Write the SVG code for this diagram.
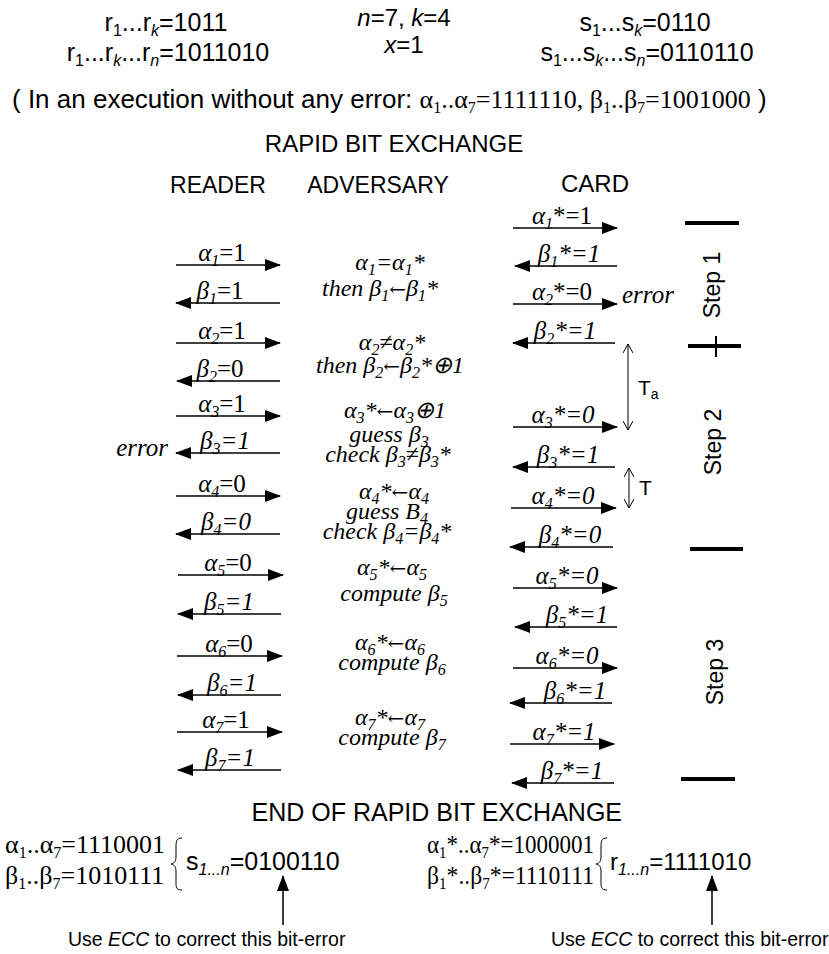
<svg xmlns="http://www.w3.org/2000/svg" width="829" height="954" viewBox="0 0 829 954">
<defs>
<style>
.ar{font-family:"Liberation Sans",Arial,sans-serif;font-size:23px;fill:#000}
.tm{font-family:"Liberation Serif","Times New Roman",serif;font-style:italic;font-size:25px;fill:#000}
.adv{font-family:"Liberation Serif","Times New Roman",serif;font-style:italic;font-size:24px;fill:#000}
.rm{font-family:"Liberation Serif","Times New Roman",serif;font-style:normal;font-size:25px;fill:#000}
.n{font-style:normal}
.i{font-style:italic}
.s{font-size:16px}
.arw{font-family:"DejaVu Serif","DejaVu Sans",serif;font-style:normal;font-size:20px}
.msg{stroke:#000;stroke-width:1.5;fill:none}
.thin{stroke:#000;stroke-width:1;fill:none}
.bar{stroke:#000;stroke-width:4;fill:none}
</style>
<marker id="ah" markerUnits="userSpaceOnUse" markerWidth="16" markerHeight="12" refX="15" refY="6" orient="auto-start-reverse">
<path d="M0,0 L16,6 L0,12 Z" fill="#000"/>
</marker>
<marker id="oh" markerUnits="userSpaceOnUse" markerWidth="10" markerHeight="10" refX="9" refY="5" orient="auto-start-reverse">
<path d="M0,0 L9,5 L0,10" fill="none" stroke="#000" stroke-width="1"/>
</marker>
</defs>
<rect width="829" height="954" fill="#fff"/>

<g id="params">
<text class="ar" x="166" y="31" text-anchor="middle" style="font-size:25px">r<tspan class="s" dy="5">1</tspan><tspan dy="-5">...r</tspan><tspan class="s i" dy="5">k</tspan><tspan dy="-5">=1011</tspan></text>
<text class="ar" x="168" y="61" text-anchor="middle" style="font-size:25px">r<tspan class="s" dy="5">1</tspan><tspan dy="-5">...r</tspan><tspan class="s i" dy="5">k</tspan><tspan dy="-5">...r</tspan><tspan class="s i" dy="5">n</tspan><tspan dy="-5">=1011010</tspan></text>
<text class="ar" x="404" y="26" text-anchor="middle" style="font-size:24px"><tspan class="i">n</tspan>=7, <tspan class="i">k</tspan>=4</text>
<text class="ar" x="404" y="53" text-anchor="middle" style="font-size:24px"><tspan class="i">x</tspan>=1</text>
<text class="ar" x="645" y="31" text-anchor="middle" style="font-size:25px">s<tspan class="s" dy="5">1</tspan><tspan dy="-5">...s</tspan><tspan class="s i" dy="5">k</tspan><tspan dy="-5">=0110</tspan></text>
<text class="ar" x="647" y="61" text-anchor="middle" style="font-size:25px">s<tspan class="s" dy="5">1</tspan><tspan dy="-5">...s</tspan><tspan class="s i" dy="5">k</tspan><tspan dy="-5">...s</tspan><tspan class="s i" dy="5">n</tspan><tspan dy="-5">=0110110</tspan></text>
<text class="ar" x="12" y="108" style="font-size:26px">( In an execution without any error:  <tspan class="rm" style="font-size:26px">α<tspan class="s" dy="5">1</tspan><tspan dy="-5">..α</tspan><tspan class="s" dy="5">7</tspan><tspan dy="-5">=1111110,  β</tspan><tspan class="s" dy="5">1</tspan><tspan dy="-5">..β</tspan><tspan class="s" dy="5">7</tspan><tspan dy="-5">=1001000</tspan></tspan> )</text>
</g>

<g id="headings">
<text class="ar" x="394" y="152" text-anchor="middle" style="font-size:24px">RAPID BIT EXCHANGE</text>
<text class="ar" x="218" y="193" text-anchor="middle">READER</text>
<text class="ar" x="378" y="193" text-anchor="middle">ADVERSARY</text>
<text class="ar" x="595" y="192" text-anchor="middle" style="font-size:24px">CARD</text>
</g>

<g id="connectors">
<line class="msg" x1="176" y1="265" x2="280" y2="265" marker-end="url(#ah)"/>
<line class="msg" x1="280" y1="303" x2="176" y2="303" marker-end="url(#ah)"/>
<line class="msg" x1="176" y1="343" x2="280" y2="343" marker-end="url(#ah)"/>
<line class="msg" x1="280" y1="381" x2="177" y2="381" marker-end="url(#ah)"/>
<line class="msg" x1="176" y1="416" x2="280" y2="416" marker-end="url(#ah)"/>
<line class="msg" x1="280" y1="453" x2="176" y2="453" marker-end="url(#ah)"/>
<line class="msg" x1="176" y1="496" x2="280" y2="496" marker-end="url(#ah)"/>
<line class="msg" x1="280" y1="534" x2="176" y2="534" marker-end="url(#ah)"/>
<line class="msg" x1="178" y1="575" x2="283" y2="575" marker-end="url(#ah)"/>
<line class="msg" x1="281" y1="614" x2="178" y2="614" marker-end="url(#ah)"/>
<line class="msg" x1="177" y1="656" x2="282" y2="656" marker-end="url(#ah)"/>
<line class="msg" x1="281" y1="695" x2="178" y2="695" marker-end="url(#ah)"/>
<line class="msg" x1="177" y1="732" x2="282" y2="732" marker-end="url(#ah)"/>
<line class="msg" x1="281" y1="770" x2="178" y2="770" marker-end="url(#ah)"/>
<line class="msg" x1="513" y1="228" x2="617" y2="228" marker-end="url(#ah)"/>
<line class="msg" x1="617" y1="266" x2="515" y2="266" marker-end="url(#ah)"/>
<line class="msg" x1="513" y1="304" x2="617" y2="304" marker-end="url(#ah)"/>
<line class="msg" x1="615" y1="343" x2="513" y2="343" marker-end="url(#ah)"/>
<line class="msg" x1="513" y1="427" x2="617" y2="427" marker-end="url(#ah)"/>
<line class="msg" x1="615" y1="467" x2="513" y2="467" marker-end="url(#ah)"/>
<line class="msg" x1="511" y1="508" x2="616" y2="508" marker-end="url(#ah)"/>
<line class="msg" x1="613" y1="547" x2="510" y2="547" marker-end="url(#ah)"/>
<line class="msg" x1="513" y1="588" x2="617" y2="588" marker-end="url(#ah)"/>
<line class="msg" x1="617" y1="627" x2="515" y2="627" marker-end="url(#ah)"/>
<line class="msg" x1="513" y1="668" x2="617" y2="668" marker-end="url(#ah)"/>
<line class="msg" x1="612" y1="703" x2="510" y2="703" marker-end="url(#ah)"/>
<line class="msg" x1="510" y1="744" x2="614" y2="744" marker-end="url(#ah)"/>
<line class="msg" x1="614" y1="783" x2="512" y2="783" marker-end="url(#ah)"/>
<line class="thin" x1="628" y1="344" x2="628" y2="430" marker-start="url(#oh)" marker-end="url(#oh)"/>
<line class="thin" x1="629" y1="468" x2="629" y2="508" marker-start="url(#oh)" marker-end="url(#oh)"/>
<line class="msg" x1="283" y1="925" x2="283" y2="876" marker-end="url(#ah)"/>
<line class="msg" x1="712" y1="925" x2="712" y2="876" marker-end="url(#ah)"/>
</g>

<g id="reader-labels" class="tm" text-anchor="middle">
<text x="222" y="261">α<tspan class="s" dy="5">1</tspan><tspan class="n" dy="-5">=1</tspan></text>
<text x="220" y="299">β<tspan class="s" dy="5">1</tspan><tspan class="n" dy="-5">=1</tspan></text>
<text x="222" y="339">α<tspan class="s" dy="5">2</tspan><tspan class="n" dy="-5">=1</tspan></text>
<text x="220" y="377">β<tspan class="s" dy="5">2</tspan><tspan class="n" dy="-5">=0</tspan></text>
<text x="222" y="412">α<tspan class="s" dy="5">3</tspan><tspan class="n" dy="-5">=1</tspan></text>
<text x="225" y="449">β<tspan class="s" dy="5">3</tspan><tspan dy="-5">=1</tspan></text>
<text x="222" y="492">α<tspan class="s" dy="5">4</tspan><tspan class="n" dy="-5">=0</tspan></text>
<text x="226" y="530">β<tspan class="s" dy="5">4</tspan><tspan dy="-5">=0</tspan></text>
<text x="228" y="571">α<tspan class="s" dy="5">5</tspan><tspan class="n" dy="-5">=0</tspan></text>
<text x="229" y="610">β<tspan class="s" dy="5">5</tspan><tspan dy="-5">=1</tspan></text>
<text x="229" y="652">α<tspan class="s" dy="5">6</tspan><tspan class="n" dy="-5">=0</tspan></text>
<text x="232" y="691">β<tspan class="s" dy="5">6</tspan><tspan dy="-5">=1</tspan></text>
<text x="226" y="728">α<tspan class="s" dy="5">7</tspan><tspan class="n" dy="-5">=1</tspan></text>
<text x="230" y="766">β<tspan class="s" dy="5">7</tspan><tspan dy="-5">=1</tspan></text>
<text x="168" y="456" text-anchor="end">error</text>
</g>

<g id="adversary" class="adv" text-anchor="middle">
<text x="390" y="270">α<tspan class="s" dy="5">1</tspan><tspan dy="-5">=α</tspan><tspan class="s" dy="5">1</tspan><tspan dy="-5">*</tspan></text>
<text x="380" y="296">then β<tspan class="s" dy="5">1</tspan><tspan class="arw" dy="-5">←</tspan>β<tspan class="s" dy="5">1</tspan><tspan dy="-5">*</tspan></text>
<text x="392" y="350">α<tspan class="s" dy="5">2</tspan><tspan dy="-5">≠α</tspan><tspan class="s" dy="5">2</tspan><tspan dy="-5">*</tspan></text>
<text x="390" y="373">then β<tspan class="s" dy="5">2</tspan><tspan class="arw" dy="-5">←</tspan>β<tspan class="s" dy="5">2</tspan><tspan dy="-5">*⊕1</tspan></text>
<text x="395" y="418">α<tspan class="s" dy="5">3</tspan><tspan dy="-5">*</tspan><tspan class="arw">←</tspan>α<tspan class="s" dy="5">3</tspan><tspan dy="-5">⊕1</tspan></text>
<text x="389" y="442">guess β<tspan class="s" dy="5">3</tspan></text>
<text x="388" y="462">check β<tspan class="s" dy="5">3</tspan><tspan dy="-5">≠β</tspan><tspan class="s" dy="5">3</tspan><tspan dy="-5">*</tspan></text>
<text x="394" y="499">α<tspan class="s" dy="5">4</tspan><tspan dy="-5">*</tspan><tspan class="arw">←</tspan>α<tspan class="s" dy="5">4</tspan></text>
<text x="387" y="519">guess B<tspan class="s" dy="5">4</tspan></text>
<text x="387" y="539">check β<tspan class="s" dy="5">4</tspan><tspan dy="-5">=β</tspan><tspan class="s" dy="5">4</tspan><tspan dy="-5">*</tspan></text>
<text x="392" y="575">α<tspan class="s" dy="5">5</tspan><tspan dy="-5">*</tspan><tspan class="arw">←</tspan>α<tspan class="s" dy="5">5</tspan></text>
<text x="394" y="601">compute β<tspan class="s" dy="5">5</tspan></text>
<text x="390" y="650">α<tspan class="s" dy="5">6</tspan><tspan dy="-5">*</tspan><tspan class="arw">←</tspan>α<tspan class="s" dy="5">6</tspan></text>
<text x="392" y="670">compute β<tspan class="s" dy="5">6</tspan></text>
<text x="390" y="725">α<tspan class="s" dy="5">7</tspan><tspan dy="-5">*</tspan><tspan class="arw">←</tspan>α<tspan class="s" dy="5">7</tspan></text>
<text x="392" y="745">compute β<tspan class="s" dy="5">7</tspan></text>
</g>

<g id="card-labels" class="tm" text-anchor="middle">
<text x="562" y="224">α<tspan class="s" dy="5">1</tspan><tspan class="n" dy="-5">*=1</tspan></text>
<text x="569" y="262">β<tspan class="s" dy="5">1</tspan><tspan dy="-5">*=1</tspan></text>
<text x="562" y="300">α<tspan class="s" dy="5">2</tspan><tspan class="n" dy="-5">*=0</tspan></text>
<text x="565" y="339">β<tspan class="s" dy="5">2</tspan><tspan dy="-5">*=1</tspan></text>
<text x="563" y="423">α<tspan class="s" dy="5">3</tspan><tspan dy="-5">*=0</tspan></text>
<text x="568" y="463">β<tspan class="s" dy="5">3</tspan><tspan dy="-5">*=1</tspan></text>
<text x="563" y="504">α<tspan class="s" dy="5">4</tspan><tspan dy="-5">*=0</tspan></text>
<text x="570" y="543">β<tspan class="s" dy="5">4</tspan><tspan dy="-5">*=0</tspan></text>
<text x="567" y="584">α<tspan class="s" dy="5">5</tspan><tspan dy="-5">*=0</tspan></text>
<text x="577" y="623">β<tspan class="s" dy="5">5</tspan><tspan dy="-5">*=1</tspan></text>
<text x="567" y="664">α<tspan class="s" dy="5">6</tspan><tspan dy="-5">*=0</tspan></text>
<text x="575" y="699">β<tspan class="s" dy="5">6</tspan><tspan dy="-5">*=1</tspan></text>
<text x="564" y="740">α<tspan class="s" dy="5">7</tspan><tspan dy="-5">*=1</tspan></text>
<text x="572" y="779">β<tspan class="s" dy="5">7</tspan><tspan dy="-5">*=1</tspan></text>
<text x="622" y="303" text-anchor="start">error</text>
</g>

<g id="timing">
<text class="ar" x="638" y="395" style="font-size:21px">T<tspan style="font-size:14px" dy="4">a</tspan></text>
<text class="ar" x="639" y="495" style="font-size:21px">T</text>
</g>

<g id="steps">
<line class="bar" x1="685" y1="223" x2="739" y2="223"/>
<line class="bar" x1="688" y1="346" x2="741" y2="346"/>
<line class="bar" x1="716" y1="336" x2="716" y2="357" style="stroke-width:2"/>
<line class="bar" x1="690" y1="549" x2="743" y2="549"/>
<line class="bar" x1="681" y1="779" x2="735" y2="779"/>
<text class="ar" transform="translate(720,285) rotate(-90)" text-anchor="middle">Step 1</text>
<text class="ar" transform="translate(721,442) rotate(-90)" text-anchor="middle">Step 2</text>
<text class="ar" transform="translate(723,672) rotate(-90)" text-anchor="middle">Step 3</text>
</g>

<g id="end">
<text class="ar" x="622" y="821" text-anchor="end" style="font-size:25px">END OF RAPID BIT EXCHANGE</text>
</g>

<g id="reader-result">
<text class="rm" x="5" y="853" style="font-size:26px">α<tspan class="s" dy="5">1</tspan><tspan dy="-5">..α</tspan><tspan class="s" dy="5">7</tspan><tspan dy="-5">=1110001</tspan></text>
<text class="rm" x="5" y="884" style="font-size:26px">β<tspan class="s" dy="5">1</tspan><tspan dy="-5">..β</tspan><tspan class="s" dy="5">7</tspan><tspan dy="-5">=1010111</tspan></text>
<path class="thin" d="M182,838 C176,838 176,842 176,848 L176,856 C176,861 175,863 171,864 C175,865 176,867 176,872 L176,882 C176,887 176,890 182,890"/>
<text class="ar" x="186" y="870" style="font-size:25px">s<tspan class="s i" dy="5">1...n</tspan><tspan dy="-5">=0100110</tspan></text>
<text class="ar" x="68" y="946" style="font-size:19.5px">Use <tspan class="i">ECC</tspan> to correct this bit-error</text>
</g>

<g id="card-result">
<text class="rm" x="427" y="853" style="font-size:25px" textLength="167" lengthAdjust="spacingAndGlyphs">α<tspan class="s" dy="5">1</tspan><tspan dy="-5">*..α</tspan><tspan class="s" dy="5">7</tspan><tspan dy="-5">*=1000001</tspan></text>
<text class="rm" x="427" y="884" style="font-size:25px" textLength="167" lengthAdjust="spacingAndGlyphs">β<tspan class="s" dy="5">1</tspan><tspan dy="-5">*..β</tspan><tspan class="s" dy="5">7</tspan><tspan dy="-5">*=1110111</tspan></text>
<path class="thin" d="M607,838 C601,838 601,842 601,848 L601,856 C601,861 600,863 596,864 C600,865 601,867 601,872 L601,882 C601,887 601,890 607,890"/>
<text class="ar" x="610" y="870" style="font-size:24px">r<tspan class="s i" dy="5">1...n</tspan><tspan dy="-5">=1111010</tspan></text>
<text class="ar" x="551" y="946" style="font-size:19.5px">Use <tspan class="i">ECC</tspan> to correct this bit-error</text>
</g>
</svg>
